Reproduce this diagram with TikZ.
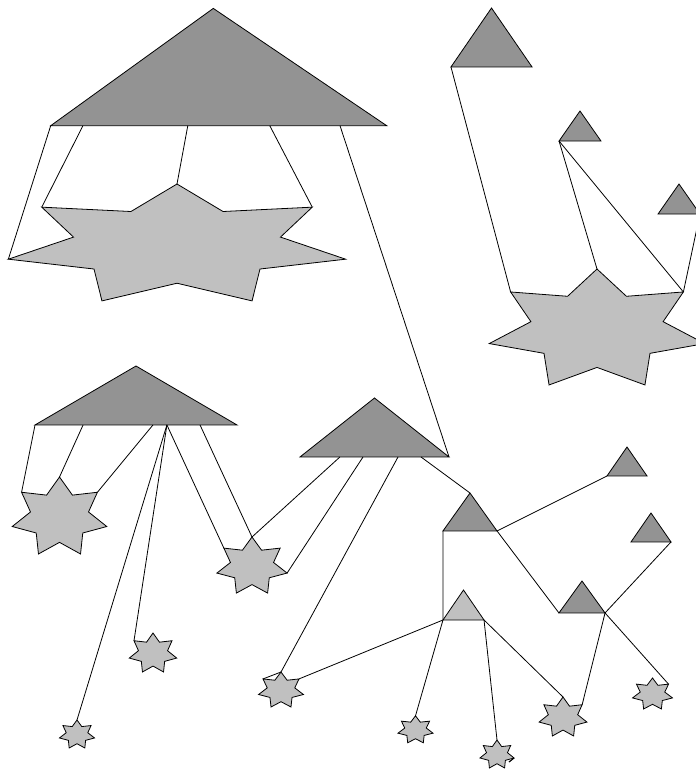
\documentclass[tikz,border=0pt]{standalone}
\usepackage{tikz}
\usetikzlibrary{calc,shapes.geometric}
\usepackage{xcolor}
\definecolor{shapedark}{HTML}{939393}
\definecolor{shapelight}{HTML}{C0C0C0}

\begin{document}
\begin{tikzpicture}[
  x=1pt, y=-1pt,
  tri/.style={regular polygon, regular polygon sides=3, draw, fill=shapedark, line width=0.8pt, inner sep=0pt, outer sep=0pt, minimum size=20pt, transform shape},
  star7/.style={star, star points=7, star point ratio=1.63, draw, fill=shapelight, line width=0.8pt, inner sep=0pt, outer sep=0pt, minimum size=20pt, transform shape},
  link/.style={line width=0.8pt}
]
  \clip (0,0) rectangle (696,771);

  % triangles
  \node[tri, xscale=19.4, yscale=7.82, xslant=-0.0186] (t1) at (216.9,86.6) {};
  \node[tri, xscale=4.68, yscale=3.93] (t2) at (491.5,47.3) {};
  \node[tri, xscale=2.42, yscale=2.0] (t3) at (580,131) {};
  \node[tri, xscale=2.42, yscale=2.0] (t4) at (679,204) {};
  \node[tri, xscale=11.66, yscale=3.93] (t5) at (136,405.3) {};
  \node[tri, xscale=8.6, yscale=3.93] (t6) at (374.5,437.3) {};
  \node[tri, xscale=3.12, yscale=2.53] (t7) at (470,518.3) {};
  \node[tri, xscale=2.31, yscale=1.93] (t8) at (627,466.3) {};
  \node[tri, xscale=2.31, yscale=1.93] (t9) at (651,532.3) {};
  \node[tri, xscale=2.66, yscale=2.13] (t10) at (582,602.3) {};
  \node[tri, fill=shapelight, xscale=2.37, yscale=2.0] (t11) at (463.5,610) {};

  % stars
  \node[star7, xscale=17.3, yscale=6.15] (s1) at (177,245.5) {};
  \node[star7, xscale=11.05, yscale=6.1] (s2) at (597,330) {};
  \node[star7, xscale=4.85, yscale=4.05] (s3) at (59.5,517.5) {};
  \node[star7, xscale=3.6, yscale=2.95] (s4) at (252,566.5) {};
  \node[star7, xscale=2.43, yscale=2.05] (s5) at (153,653.5) {};
  \node[star7, xscale=1.8, yscale=1.47] (s6) at (77,734.7) {};
  \node[star7, xscale=2.3, yscale=1.84] (s7) at (281,690.4) {};
  \node[star7, xscale=1.8, yscale=1.42] (s8) at (415.5,730) {};
  \node[star7, xscale=1.75, yscale=1.47] (s9) at (497,754.7) {};
  \node[star7, xscale=2.45, yscale=2.05] (s10) at (563,717.5) {};
  \node[star7, xscale=2.05, yscale=1.63] (s11) at (652.5,694.3) {};
  \coordinate (tick) at (509,762);

  % links
  \draw[link] (t1.corner 2) -- (s1.outer point 3);
  \draw[link] ($(t1.corner 2)!0.096!(t1.corner 3)$) -- (s1.outer point 2);
  \draw[link] ($(t1.corner 2)!0.408!(t1.corner 3)$) -- (s1.outer point 1);
  \draw[link] ($(t1.corner 2)!0.652!(t1.corner 3)$) -- (s1.outer point 7);
  \draw[link] ($(t1.corner 2)!0.861!(t1.corner 3)$) -- (t6.corner 3);
  \draw[link] (t2.corner 2) -- (s2.outer point 2);
  \draw[link] (t3.corner 2) -- (s2.outer point 1);
  \draw[link] (t3.corner 2) -- (s2.outer point 7);
  \draw[link] (t4.corner 3) -- (s2.outer point 7);
  \draw[link] (t5.corner 2) -- (s3.outer point 2);
  \draw[link] ($(t5.corner 2)!0.238!(t5.corner 3)$) -- (s3.outer point 1);
  \draw[link] ($(t5.corner 2)!0.584!(t5.corner 3)$) -- (s3.outer point 7);
  \draw[link] ($(t5.corner 2)!0.653!(t5.corner 3)$) -- (s6.outer point 1);
  \draw[link] ($(t5.corner 2)!0.653!(t5.corner 3)$) -- (s5.outer point 2);
  \draw[link] ($(t5.corner 2)!0.653!(t5.corner 3)$) -- (s4.outer point 2);
  \draw[link] ($(t5.corner 2)!0.817!(t5.corner 3)$) -- (s4.outer point 1);
  \draw[link] ($(t6.corner 2)!0.268!(t6.corner 3)$) -- (s4.outer point 1);
  \draw[link] ($(t6.corner 2)!0.423!(t6.corner 3)$) -- (s4.outer point 6);
  \draw[link] ($(t6.corner 2)!0.658!(t6.corner 3)$) -- (s7.outer point 1);
  \draw[link] ($(t6.corner 2)!0.812!(t6.corner 3)$) -- (t7.corner 1);
  \draw[link] (t7.corner 3) -- (t8.corner 2);
  \draw[link] (t7.corner 3) -- (t10.corner 2);
  \draw[link] (t7.corner 2) -- (t11.corner 2);
  \draw[link] (t11.corner 2) -- (s7.outer point 7);
  \draw[link] (t11.corner 2) -- (s8.outer point 1);
  \draw[link] (t11.corner 3) -- (s9.outer point 1);
  \draw[link] (t11.corner 3) -- (s10.outer point 1);
  \draw[link] (t10.corner 3) -- (t9.corner 3);
  \draw[link] (t10.corner 3) -- (s10.outer point 7);
  \draw[link] (t10.corner 3) -- (s11.outer point 7);
  \draw[link] (s7.outer point 2) -- (s7.outer point 1);
  \draw[link, line width=1.2pt] (s9.outer point 6) -- (tick);
\end{tikzpicture}
\end{document}
